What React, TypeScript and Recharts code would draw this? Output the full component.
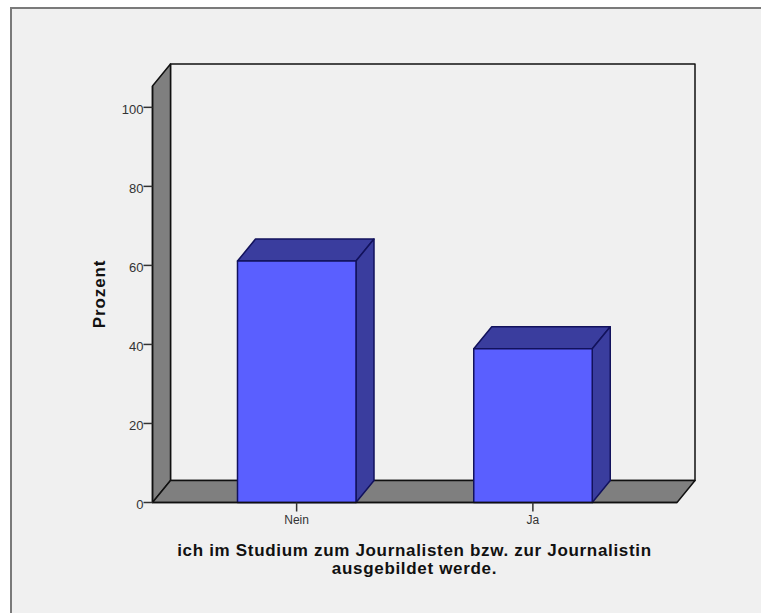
import { Bar, BarChart, XAxis, YAxis, usePlotArea } from "recharts";

const categories = ["Nein", "Ja"];
const percentages = [61.1, 38.9];
const yTicks = [0, 20, 40, 60, 80, 100];
const xTitleLines = ["ich im Studium zum Journalisten bzw. zur Journalistin", "ausgebildet werde."];

const chartData = categories.map((answer, i) => ({ answer, percent: percentages[i] }));

// depth of the fake 3D box
const DX = 18;
const DY = 22;
const OUTLINE = "#101010";
const WALL = "#7f7f7f";

const Backdrop = () => {
    const plot = usePlotArea();
    if (!plot) return null;
    const left = plot.x;
    const right = plot.x + plot.width;
    const top = plot.y;
    const bottom = plot.y + plot.height;
    return (
        <g stroke={OUTLINE} strokeWidth={1.5} strokeLinejoin="round">
            <rect x={left + DX} y={top - DY} width={plot.width} height={plot.height} fill="#f0f0f0" />
            <path d={`M${left} ${top} L${left + DX} ${top - DY} L${left + DX} ${bottom - DY} L${left} ${bottom} Z`} fill={WALL} />
            <path d={`M${left} ${bottom} L${left + DX} ${bottom - DY} L${right + DX} ${bottom - DY} L${right} ${bottom} Z`} fill={WALL} />
        </g>
    );
};

const Box3D = (props: any) => {
    const { x, y, width, height } = props;
    const r = x + width;
    const b = y + height;
    return (
        <g stroke="#12125c" strokeWidth={1.5} strokeLinejoin="round">
            <path d={`M${x} ${y} L${x + DX} ${y - DY} L${r + DX} ${y - DY} L${r} ${y} Z`} fill="#3a3d9e" />
            <path d={`M${r} ${y} L${r + DX} ${y - DY} L${r + DX} ${b - DY} L${r} ${b} Z`} fill="#3a3d9e" />
            <rect x={x} y={y} width={width} height={height} fill="#5a5fff" />
        </g>
    );
};

const App = () => {
    return (
        <div style={{ position: "absolute", left: 0, top: 0, width: 761, height: 613, background: "#fff", overflow: "hidden" }}>
            {/* panel runs off the right and bottom edges */}
            <div
                style={{
                    position: "absolute",
                    left: 10,
                    top: 7,
                    width: 800,
                    height: 660,
                    background: "#f0f0f0",
                    border: "2px solid #7a7a7a",
                    boxSizing: "border-box",
                }}
            />
            <div style={{ position: "absolute", left: 0, top: 0 }}>
                <BarChart width={761} height={613} data={chartData} margin={{ top: 86, right: 84, bottom: 70.5, left: 92.5 }}>
                    <Backdrop />
                    <XAxis
                        dataKey="answer"
                        height={40}
                        padding={{ left: 26, right: 26 }}
                        axisLine={{ stroke: OUTLINE, strokeWidth: 1.5 }}
                        tickLine={{ stroke: "#333", strokeWidth: 1.5 }}
                        tickSize={9}
                        tickMargin={4}
                        tick={{ fill: "#333", fontSize: 12, fontFamily: "Liberation Sans" }}
                    />
                    <YAxis
                        type="number"
                        domain={[0, 105.4]}
                        ticks={yTicks}
                        width={60}
                        axisLine={{ stroke: OUTLINE, strokeWidth: 1.5 }}
                        tickLine={{ stroke: "#333", strokeWidth: 1.5 }}
                        tickSize={9}
                        tickMargin={0}
                        tick={{ fill: "#333", fontSize: 13, fontFamily: "Liberation Sans", dy: 2 }}
                    />
                    <Bar dataKey="percent" barSize={118.5} shape={Box3D} isAnimationActive={false} />
                    <text
                        transform="translate(105 294) rotate(-90)"
                        textAnchor="middle"
                        fontFamily="Liberation Sans"
                        fontWeight="bold"
                        fontSize={17}
                        letterSpacing={0.9}
                        fill="#111"
                    >
                        Prozent
                    </text>
                    <text textAnchor="middle" fontFamily="Liberation Sans" fontWeight="bold" fontSize={17} letterSpacing={0.68} fill="#111">
                        {xTitleLines.map((line, i) => (
                            <tspan key={line} x={414.5} y={556 + i * 18}>
                                {line}
                            </tspan>
                        ))}
                    </text>
                </BarChart>
            </div>
        </div>
    );
};

export default App;
